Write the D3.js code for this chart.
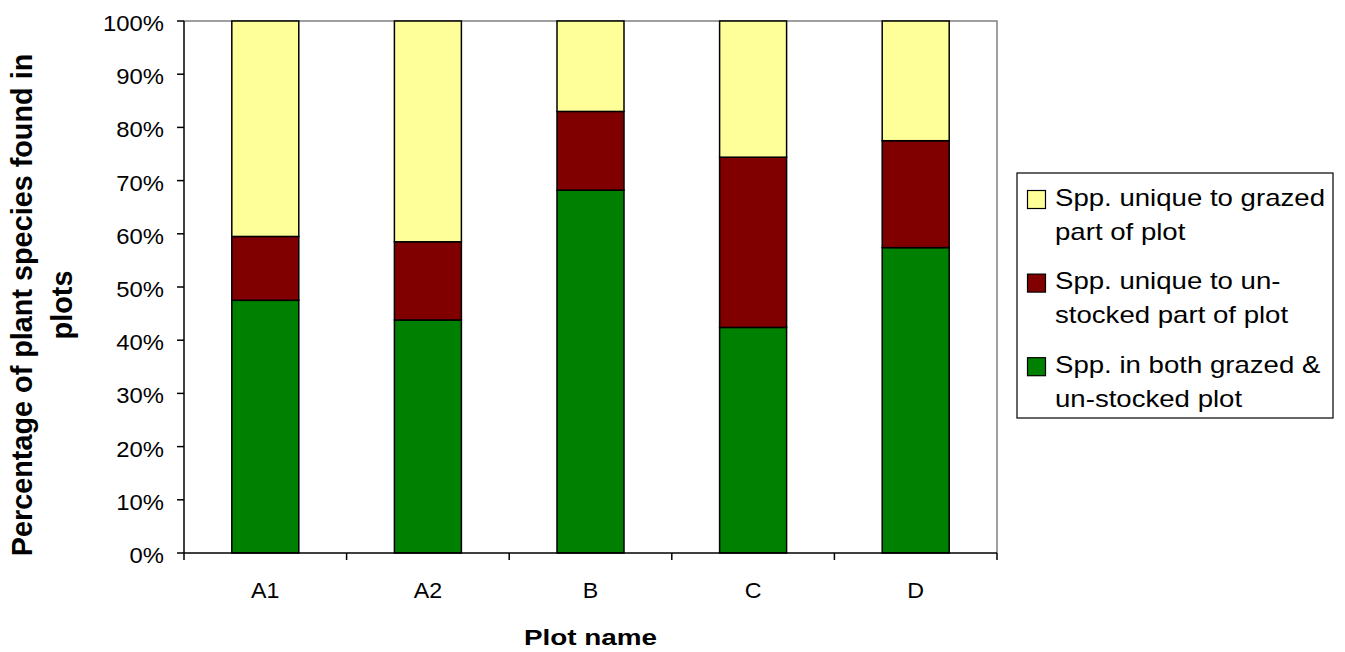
<!DOCTYPE html>
<html>
<head>
<meta charset="utf-8">
<script src="https://cdn.jsdelivr.net/npm/d3@7"></script>
<style>
  html, body { margin: 0; padding: 0; background: #fff; }
  svg { display: block; font-family: Arial, "Liberation Sans", sans-serif; }
</style>
</head>
<body>
<svg id="chart" width="1345" height="652"></svg>
<script>
// Plot names along the x axis
const plots = ["A1", "A2", "B", "C", "D"];
// Percentage of species in each group, per plot (stacked bottom to top)
const bothParts    = [47.5, 43.8, 68.2, 42.4, 57.4];
const uniqueUnstocked = [12.0, 14.7, 14.8, 32.0, 20.1];
const uniqueGrazed = [40.5, 41.5, 17.0, 25.6, 22.5];
// Y axis tick values and their labels
const yTicks = [0, 10, 20, 30, 40, 50, 60, 70, 80, 90, 100];
const yTickLabels = ["0%", "10%", "20%", "30%", "40%", "50%", "60%", "70%", "80%", "90%", "100%"];

const seriesKeys = ["both", "unstocked", "grazed"];
const seriesColors = ["#008000", "#800000", "#FFFF99"];

const rows = plots.map((p, i) => ({
  plot: p,
  both: bothParts[i],
  unstocked: uniqueUnstocked[i],
  grazed: uniqueGrazed[i]
}));

const svg = d3.select("#chart");
const plot = { left: 184, right: 997, top: 21, bottom: 553 };

const x = d3.scaleBand()
  .domain(plots)
  .range([plot.left, plot.right])
  .paddingInner(0.588)
  .paddingOuter(0.294);

const y = d3.scaleLinear()
  .domain([0, 100])
  .range([plot.bottom, plot.top]);

const stack = d3.stack().keys(seriesKeys);
const layers = stack(rows);

// Plot frame: grey top and right edges
svg.append("path")
  .attr("d", `M${plot.left},${plot.top}H${plot.right}V${plot.bottom}`)
  .attr("fill", "none")
  .attr("stroke", "#808080")
  .attr("stroke-width", 1.5);

// Stacked bars
const color = d3.scaleOrdinal().domain(seriesKeys).range(seriesColors);
svg.append("g")
  .selectAll("g")
  .data(layers)
  .join("g")
  .attr("fill", d => color(d.key))
  .selectAll("rect")
  .data(d => d)
  .join("rect")
  .attr("x", d => x(d.data.plot))
  .attr("width", x.bandwidth())
  .attr("y", d => y(d[1]))
  .attr("height", d => y(d[0]) - y(d[1]))
  .attr("stroke", "#000")
  .attr("stroke-width", 1.5);

// Y axis
const yAxis = svg.append("g");
yAxis.append("line")
  .attr("x1", plot.left).attr("x2", plot.left)
  .attr("y1", plot.top).attr("y2", plot.bottom)
  .attr("stroke", "#000").attr("stroke-width", 1.5);
yAxis.selectAll("line.tick")
  .data(yTicks)
  .join("line")
  .attr("class", "tick")
  .attr("x1", plot.left - 7).attr("x2", plot.left)
  .attr("y1", d => y(d)).attr("y2", d => y(d))
  .attr("stroke", "#000").attr("stroke-width", 1.5);
yAxis.selectAll("text")
  .data(yTicks)
  .join("text")
  .attr("text-anchor", "end")
  .attr("font-size", 22.5)
  .attr("fill", "#000")
  .attr("transform", d => `translate(164,${y(d) + 10}) scale(1.06,1)`)
  .text((d, i) => yTickLabels[i]);

// X axis
const xAxis = svg.append("g");
xAxis.append("line")
  .attr("x1", plot.left).attr("x2", plot.right)
  .attr("y1", plot.bottom).attr("y2", plot.bottom)
  .attr("stroke", "#000").attr("stroke-width", 1.5);
const boundaries = d3.range(plots.length + 1).map(i => plot.left + i * x.step());
xAxis.selectAll("line.tick")
  .data(boundaries)
  .join("line")
  .attr("class", "tick")
  .attr("x1", d => d).attr("x2", d => d)
  .attr("y1", plot.bottom).attr("y2", plot.bottom + 7)
  .attr("stroke", "#000").attr("stroke-width", 1.5);
xAxis.selectAll("text")
  .data(plots)
  .join("text")
  .attr("text-anchor", "middle")
  .attr("font-size", 21.5)
  .attr("fill", "#000")
  .attr("transform", d => `translate(${x(d) + x.bandwidth() / 2},598) scale(1.08,1)`)
  .text(d => d);

// Axis titles
svg.append("text")
  .attr("text-anchor", "middle")
  .attr("font-size", 22.5)
  .attr("font-weight", "bold")
  .attr("transform", `translate(${(plot.left + plot.right) / 2},645) scale(1.24,1)`)
  .text("Plot name");

const yTitle = svg.append("text")
  .attr("text-anchor", "middle")
  .attr("font-size", 28.8)
  .attr("font-weight", "bold")
  .attr("transform", "translate(32,305) rotate(-90)");
yTitle.append("tspan").attr("x", 0).attr("y", 0).text("Percentage of plant species found in");
yTitle.append("tspan").attr("x", 0).attr("y", 40).text("plots");

// Legend
const legend = svg.append("g");
legend.append("rect")
  .attr("x", 1017).attr("y", 173)
  .attr("width", 316).attr("height", 245)
  .attr("fill", "#fff")
  .attr("stroke", "#000").attr("stroke-width", 1.2);

const legendItems = [
  { key: "grazed", lines: ["Spp. unique to grazed", "part of plot"] },
  { key: "unstocked", lines: ["Spp. unique to un-", "stocked part of plot"] },
  { key: "both", lines: ["Spp. in both grazed &", "un-stocked plot"] }
];

const item = legend.selectAll("g.item")
  .data(legendItems)
  .join("g")
  .attr("class", "item")
  .attr("transform", (d, i) => `translate(0,${205.5 + i * 83.6})`);

item.append("rect")
  .attr("x", 1027.5).attr("y", -15)
  .attr("width", 18).attr("height", 18)
  .attr("fill", d => color(d.key))
  .attr("stroke", "#000").attr("stroke-width", 1.2);

item.each(function (d) {
  const g = d3.select(this);
  d.lines.forEach((line, j) => {
    g.append("text")
      .attr("font-size", 23.2)
      .attr("fill", "#000")
      .attr("transform", `translate(1055,${j * 34}) scale(1.19,1)`)
      .text(line);
  });
});
</script>
</body>
</html>
